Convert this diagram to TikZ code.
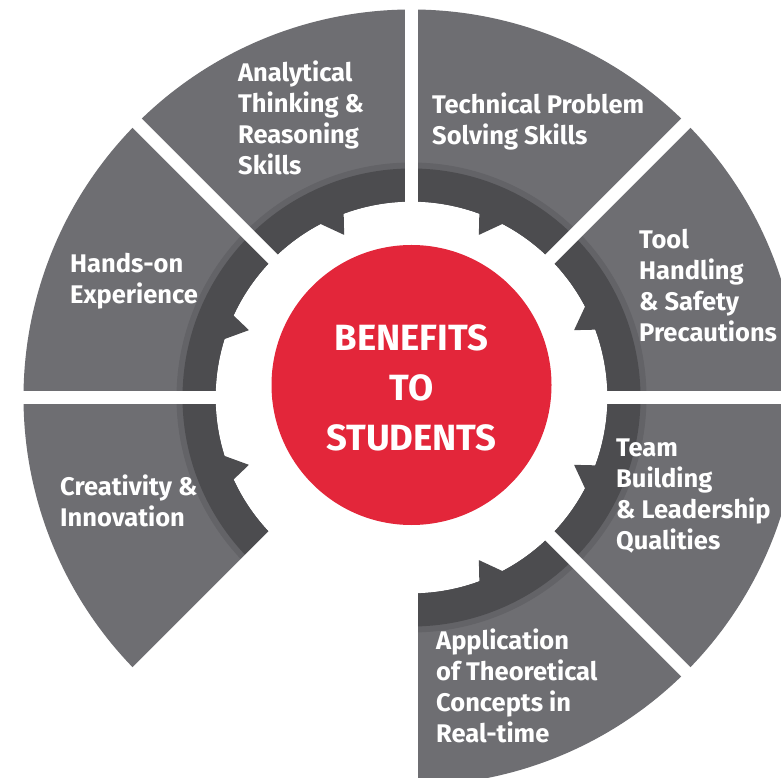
\documentclass[tikz,border=0pt]{standalone}
\usepackage{fontspec}
\setmainfont{Fira Sans}
\definecolor{seggray}{HTML}{6E6E72}
\definecolor{bandgray}{HTML}{4C4C4F}
\definecolor{midgray}{HTML}{636367}
\definecolor{hubred}{HTML}{E3263A}
\begin{document}
\begin{tikzpicture}[x=1pt,y=1pt,
  seglabel/.style={anchor=north west, align=left, text=white, inner sep=0pt,
    font=\bfseries\fontsize{25.5}{31}\selectfont},
  hubtext/.style={anchor=center, align=center, text=white, inner sep=0pt,
    font=\bfseries\fontsize{36.5}{50}\selectfont}]
\useasboundingbox (0,0) rectangle (781,777);
\fill[white] (0,0) rectangle (781,777);
\begin{scope}[shift={(411.5,379.5)}]
  \foreach \a/\s in {0/1, 45/-1, 90/1, 135/1, 180/-1, 270/1, 315/-1} {
    \pgfmathsetmacro\b{\a+45}
    \pgfmathsetmacro\m{\a+22.5}
    \fill[seggray] (\a:196) arc[start angle=\a, end angle=\b, radius=196]
      -- (\b:388) arc[start angle=\b, end angle=\a, radius=388] -- cycle;
    \fill[midgray] (\a:196) arc[start angle=\a, end angle=\b, radius=196]
      -- (\b:235) arc[start angle=\b, end angle=\a, radius=235] -- cycle;
    \fill[bandgray] (\a:196) arc[start angle=\a, end angle=\b, radius=196]
      -- (\b:229) arc[start angle=\b, end angle=\a, radius=229] -- cycle;
    \fill[bandgray] ({\m-2.4*\s}:197.5) -- (\m:176) -- ({\m+5.5*\s}:197.5) -- cycle;
  }
  \foreach \a in {0,45,...,315}
    \draw[white, line width=13pt] (0,0) -- (\a:400);
  \fill[hubred] (0,12.5) circle[radius=140];
  \node[hubtext] (hub) at (0,10) {BENEFITS\\TO\\STUDENTS};
\end{scope}
\node[seglabel] (analytical) at (238,716.5) {Analytical\\Thinking \&\\Reasoning\\Skills};
\node[seglabel] (technical) at (432,684.5) {Technical Problem\\Solving Skills};
\node[seglabel] (tool) at (639,548.5) {Tool\\Handling\\\& Safety\\Precautions};
\node[seglabel] (handson) at (70,524.5) {Hands-on\\Experience};
\node[seglabel] (creativity) at (60,302.5) {Creativity \&\\Innovation};
\node[seglabel] (team) at (616,338.5) {Team\\Building\\\& Leadership\\Qualities};
\node[seglabel] (application) at (436,148.5) {Application\\of Theoretical\\Concepts in\\Real-time};
\end{tikzpicture}
\end{document}
